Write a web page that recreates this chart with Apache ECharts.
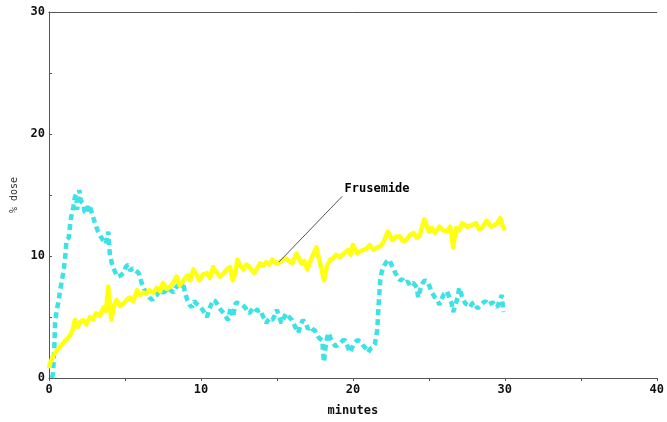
<!DOCTYPE html>
<html>
<head>
<meta charset="utf-8">
<script src="https://cdn.jsdelivr.net/npm/echarts@6/dist/echarts.min.js"></script>
<style>html,body{margin:0;padding:0;background:#fff}#c{width:667px;height:422px}</style>
</head>
<body>
<div id="c"></div>
<script>
// ---- data ----
const xTicks = [0, 10, 20, 30, 40];
const yTicks = [0, 10, 20, 30];
const seriesNames = ['Frusemide', 'Cyan'];
const frusemideT = [0.0,0.07,0.3,0.5,0.75,0.95,1.2,1.4,1.55,1.7,1.9,2.05,2.25,2.45,2.7,2.9,3.1,3.35,3.6,3.75,3.9,4.1,4.3,4.45,4.7,4.9,5.1,5.3,5.55,5.8,6.0,6.2,6.4,6.6,6.85,7.1,7.3,7.5,7.75,8.0,8.2,8.4,8.6,8.8,9.1,9.3,9.5,9.7,9.9,10.15,10.4,10.6,10.8,11.0,11.25,11.5,11.7,11.9,12.1,12.25,12.4,12.6,12.8,13.0,13.2,13.5,13.7,13.9,14.1,14.3,14.5,14.7,14.95,15.2,15.4,15.6,15.8,16.0,16.3,16.6,16.8,17.0,17.3,17.6,17.9,18.1,18.3,18.5,18.7,18.9,19.15,19.4,19.7,19.85,20.0,20.3,20.5,20.7,20.9,21.1,21.35,21.6,21.8,22.0,22.3,22.6,22.85,23.1,23.3,23.5,23.75,24.0,24.2,24.4,24.7,25.0,25.2,25.4,25.7,25.95,26.2,26.4,26.6,26.8,27.0,27.2,27.5,27.8,28.1,28.3,28.5,28.8,29.1,29.3,29.5,29.7,29.85,30.0];
const frusemideV = [0.8,1.2,1.9,2.2,2.6,2.9,3.2,3.5,3.9,4.75,4.2,4.6,4.75,4.4,5.0,4.8,5.3,5.1,5.8,5.5,7.5,4.8,6.0,6.4,5.9,6.1,6.4,6.6,6.3,7.2,6.8,7.0,6.9,7.2,7.0,7.4,7.1,7.8,7.3,7.5,7.9,8.3,7.6,7.9,8.4,8.0,8.9,8.5,8.0,8.5,8.6,8.2,9.1,8.7,8.3,8.6,8.9,9.1,8.0,8.6,9.7,9.2,8.9,9.3,9.1,8.6,9.0,9.4,9.2,9.5,9.3,9.7,9.4,9.5,9.7,9.8,9.6,9.4,10.2,9.4,9.6,8.9,9.9,10.7,9.1,8.0,9.2,9.7,9.8,10.1,9.9,10.2,10.5,10.1,10.9,10.2,10.4,10.5,10.6,10.9,10.5,10.7,10.8,11.1,12.0,11.3,11.6,11.6,11.2,11.3,11.7,11.9,11.5,11.7,13.0,12.0,12.3,11.9,12.4,12.1,12.0,12.4,10.7,12.3,12.1,12.7,12.4,12.5,12.7,12.2,12.3,12.9,12.4,12.5,12.7,13.1,12.5,12.1];
const cyanT = [0.2,0.27,0.35,0.4,0.5,0.6,0.75,0.85,0.95,1.05,1.15,1.3,1.4,1.5,1.6,1.7,1.8,1.85,2.0,2.1,2.25,2.35,2.5,2.6,2.7,2.9,3.05,3.2,3.4,3.55,3.75,3.9,4.0,4.1,4.2,4.35,4.5,4.7,4.9,5.05,5.2,5.35,5.5,5.7,5.9,6.1,6.25,6.4,6.6,6.8,6.95,7.1,7.3,7.5,7.65,7.8,8.0,8.2,8.35,8.5,8.65,8.8,8.95,9.1,9.25,9.4,9.55,9.7,9.9,10.1,10.25,10.4,10.6,10.8,10.95,11.1,11.3,11.5,11.65,11.8,11.95,12.1,12.3,12.5,12.7,12.9,13.05,13.2,13.35,13.5,13.7,13.9,14.1,14.3,14.5,14.7,14.85,15.0,15.15,15.3,15.45,15.6,15.8,16.0,16.2,16.4,16.55,16.7,16.9,17.05,17.2,17.35,17.5,17.6,17.7,17.85,18.0,18.02,18.1,18.2,18.3,18.4,18.55,18.7,18.85,19.0,19.2,19.35,19.5,19.65,19.8,19.95,20.1,20.3,20.5,20.65,20.8,20.95,21.0,21.15,21.3,21.45,21.6,21.7,21.8,21.9,22.0,22.2,22.4,22.6,22.8,22.95,23.1,23.25,23.4,23.6,23.75,23.95,24.1,24.2,24.3,24.45,24.6,24.75,24.9,25.05,25.2,25.3,25.4,25.55,25.7,25.85,26.0,26.2,26.35,26.5,26.6,26.75,26.9,27.0,27.2,27.4,27.55,27.7,27.85,28.0,28.2,28.4,28.6,28.75,28.9,29.05,29.2,29.35,29.5,29.65,29.8,29.9];
const cyanV = [0.0,0.4,2.5,4.5,5.5,6.1,7.3,8.0,8.7,9.7,11.3,11.5,12.7,13.5,14.0,14.8,15.1,13.8,15.4,14.5,14.3,13.6,13.5,14.2,14.0,13.2,12.6,12.1,11.6,11.3,11.0,12.0,10.2,9.6,9.1,8.7,8.3,8.4,8.6,9.1,9.3,8.8,9.0,8.8,8.6,7.8,7.3,7.0,6.6,6.4,6.7,6.8,7.2,7.0,7.1,7.4,7.2,7.0,7.4,7.6,7.3,7.9,7.0,6.4,6.0,5.8,6.3,6.1,5.9,5.6,5.3,5.0,5.8,6.4,6.3,6.0,5.6,5.3,5.0,4.75,5.8,5.0,6.2,6.1,6.0,5.8,5.5,5.3,5.6,5.8,5.5,5.6,5.0,4.5,4.9,4.75,5.1,5.6,5.0,4.5,4.9,5.3,5.0,4.75,4.2,3.7,4.3,4.75,4.5,4.0,4.2,4.0,3.9,3.6,3.4,3.2,3.1,2.3,1.3,2.5,3.3,3.7,3.2,2.9,2.6,2.7,2.9,3.1,3.1,2.6,2.1,2.5,2.9,3.1,3.0,2.7,2.5,2.3,2.1,2.4,2.5,2.8,3.9,6.1,8.0,8.7,9.1,9.5,9.7,9.1,8.6,8.3,8.0,8.1,7.8,7.9,7.6,7.8,7.6,7.4,6.6,7.3,7.8,8.0,7.9,7.5,7.0,6.8,6.6,6.4,6.0,6.5,6.9,7.1,6.6,6.1,5.4,6.0,6.6,7.4,6.6,6.1,6.0,5.8,6.1,6.2,5.7,6.0,6.2,6.3,6.0,6.1,6.2,6.0,5.8,6.3,6.8,5.4];
const annotationText = 'Frusemide';
const annotationFrom = [15.13, 9.5];
const annotationTo = [19.3, 14.9];
const annotationLabelAt = [19.45, 15.5];

// ---- chart ----
const pair = (ts, vs) => ts.map((t, i) => [t, vs[i]]);
const mono = 'DejaVu Sans Mono';
const chart = echarts.init(document.getElementById('c'), null, {renderer: 'canvas'});
chart.setOption({
  animation: false,
  backgroundColor: '#ffffff',
  grid: {left: 49, right: 10, top: 12, bottom: 44, containLabel: false},
  xAxis: [{
    type: 'value', min: xTicks[0], max: xTicks[xTicks.length - 1], interval: 5,
    name: 'minutes', nameLocation: 'middle', nameGap: 27,
    nameTextStyle: {fontFamily: mono, fontWeight: 'bold', fontSize: 12, color: '#111'},
    axisLine: {lineStyle: {color: '#555', width: 1}},
    axisTick: {show: true, inside: false, length: 3, lineStyle: {color: '#555'}},
    axisLabel: {fontFamily: mono, fontWeight: 'bold', fontSize: 12, color: '#111', margin: 6,
      formatter: v => xTicks.includes(v) ? String(v) : ''},
    splitLine: {show: false}
  }, {
    type: 'value', position: 'top', min: xTicks[0], max: xTicks[xTicks.length - 1],
    axisLine: {show: true, lineStyle: {color: '#555', width: 1}},
    axisTick: {show: false}, axisLabel: {show: false}, splitLine: {show: false}
  }],
  yAxis: {
    type: 'value', min: yTicks[0], max: yTicks[yTicks.length - 1], interval: 5,
    name: '% dose', nameLocation: 'middle', nameGap: 27, nameRotate: 90,
    nameTextStyle: {fontFamily: mono, fontSize: 10, color: '#333'},
    axisLine: {show: true, lineStyle: {color: '#555', width: 1}},
    axisTick: {show: true, inside: true, length: 3, lineStyle: {color: '#555'}},
    axisLabel: {fontFamily: mono, fontWeight: 'bold', fontSize: 12, color: '#111', margin: 4,
      formatter: v => yTicks.includes(v) ? String(v) : ''},
    splitLine: {show: false}
  },
  series: [{
    name: seriesNames[1], type: 'line', data: pair(cyanT, cyanV), showSymbol: false, symbol: 'none',
    lineStyle: {color: '#3de2e6', width: 4.5, type: [6, 4]}, z: 2
  }, {
    name: seriesNames[0], type: 'line', data: pair(frusemideT, frusemideV), showSymbol: false, symbol: 'none',
    lineStyle: {color: '#ffff14', width: 4.5, join: 'round'}, z: 3,
    markLine: {
      silent: true, symbol: ['none', 'none'], animation: false,
      lineStyle: {color: '#555', width: 1, type: 'solid'},
      label: {show: false},
      data: [[{coord: annotationFrom}, {coord: annotationTo}]]
    },
    markPoint: {
      silent: true, symbol: 'circle', symbolSize: 0,
      data: [{coord: annotationLabelAt, value: annotationText}],
      label: {show: true, position: 'right', distance: 0, formatter: annotationText,
        fontFamily: mono, fontWeight: 'bold', fontSize: 12, color: '#000'}
    }
  }]
});
</script>
</body>
</html>
